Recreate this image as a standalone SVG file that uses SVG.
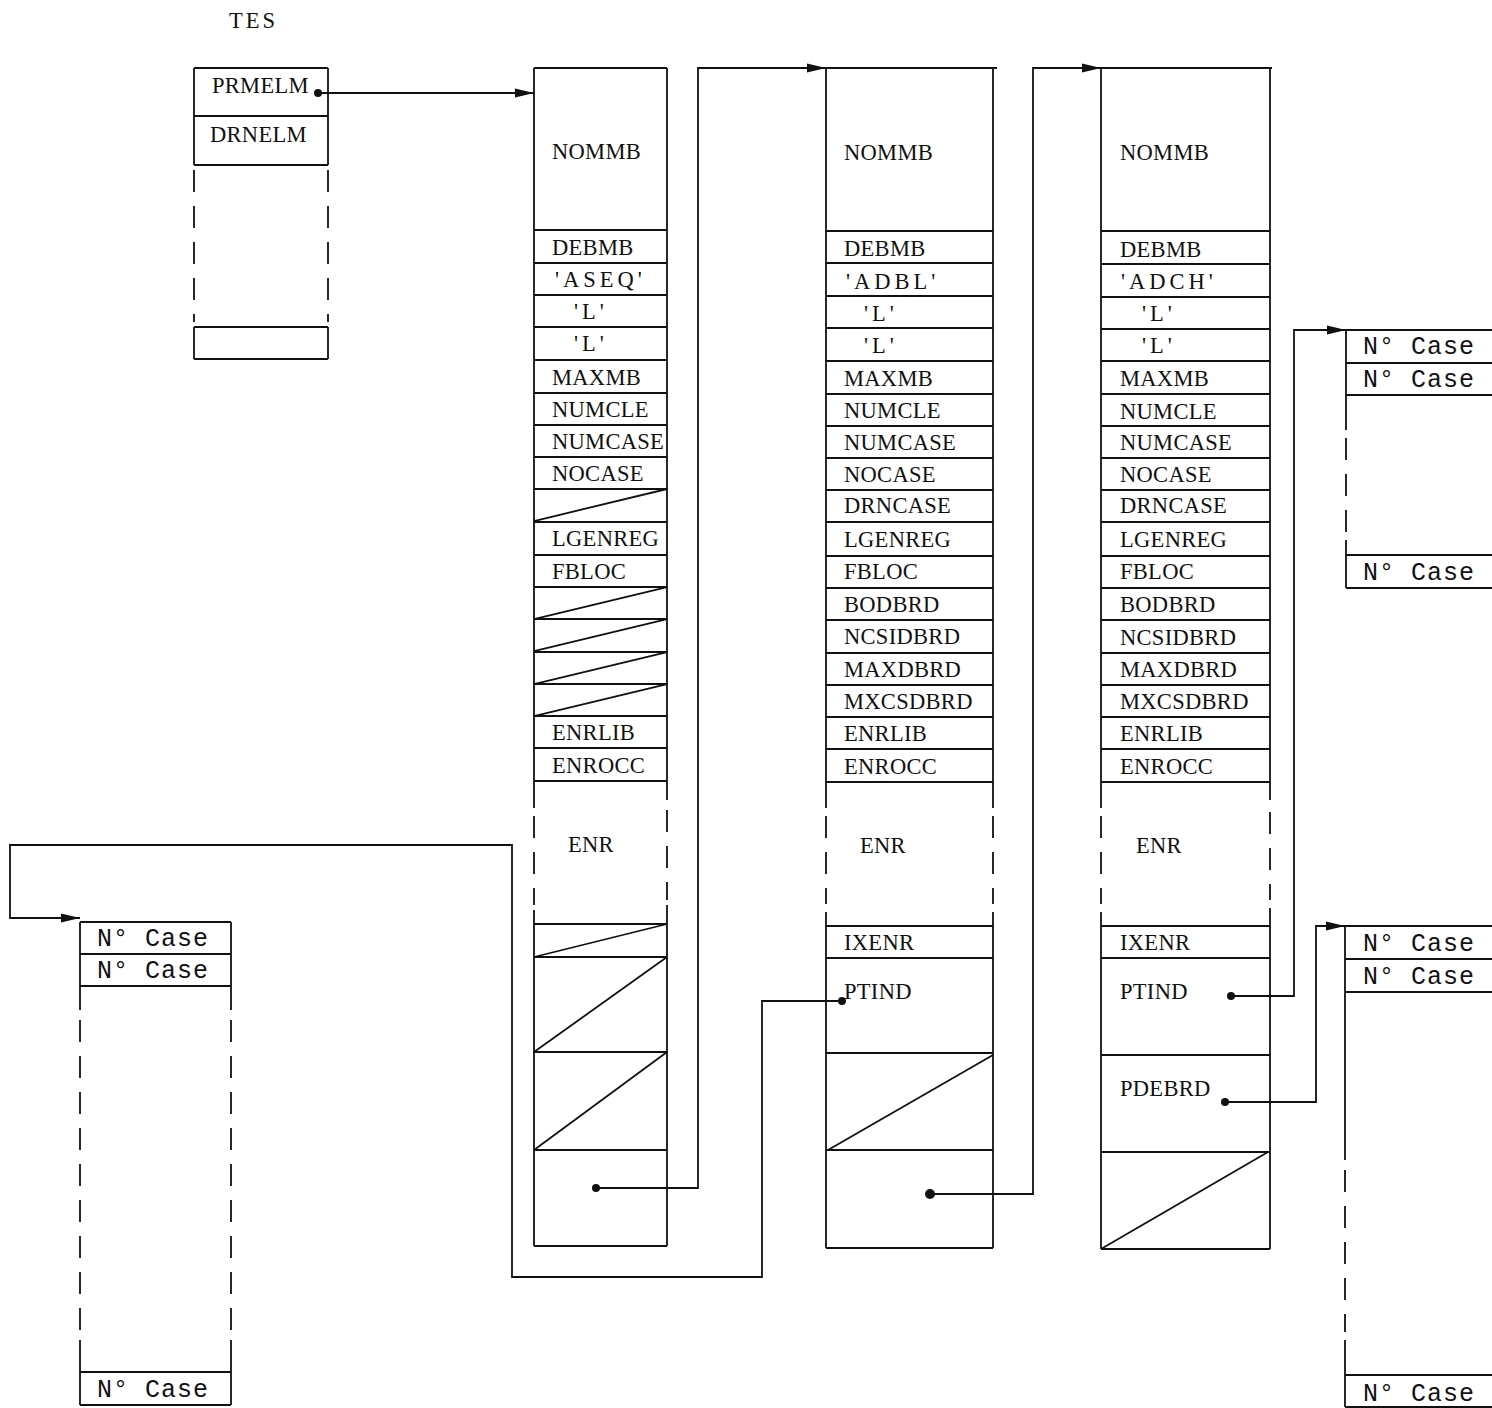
<svg xmlns="http://www.w3.org/2000/svg" width="1492" height="1408" viewBox="0 0 1492 1408">
<style>
.ln{stroke:#111;stroke-width:1.8;fill:none}
.ds{stroke:#111;stroke-width:1.8;fill:none;stroke-dasharray:22 14}
text{font-family:"Liberation Serif","Times New Roman",serif;font-size:22.5px;letter-spacing:0.3px;fill:#111}
text.q{letter-spacing:4px}
text.t{letter-spacing:3px}
text.m{font-family:"Liberation Mono","Courier New",monospace;font-size:25px;letter-spacing:1px}
.dot{fill:#111}
</style>
<defs>
<marker id="ah" markerUnits="userSpaceOnUse" markerWidth="20" markerHeight="12" refX="19" refY="6" orient="auto">
<path d="M0,1.5 L19,6 L0,10.5 z" fill="#111"/>
</marker>
</defs>
<rect width="1492" height="1408" fill="#fff"/>
<text class="t" x="229" y="28">TES</text>

<g id="tes">
<path class="ln" d="M194,68H328M194,116H328M194,165H328M194,327H328M194,359H328M194,68V165M328,68V165M194,327V359M328,327V359"/>
<path class="ds" d="M194,170V322M328,170V322"/>
<text x="212" y="93">PRMELM</text>
<text x="210" y="142">DRNELM</text>
</g>

<g id="col1">
<path class="ln" d="M534,68H667M534,230H667M534,263H667M534,295H667M534,327H667M534,360H667M534,393H667M534,425H667M534,457H667M534,489H667M534,522H667M534,555H667M534,587H667M534,619H667M534,652H667M534,684H667M534,716H667M534,748H667M534,781H667M534,924H667M534,957H667M534,1052H667M534,1150H667M534,1246H667"/>
<path class="ln" d="M534,68V808M667,68V800M534,910V1246M667,905V1246"/>
<path class="ds" d="M534,816V905M667,810V900"/>
<path class="ln" d="M534,521L667,489M534,619L667,587M534,651L667,619M534,684L667,652M534,716L667,684M534,957L667,924M534,1052L667,957M534,1150L667,1052"/>
<text x="552" y="159">NOMMB</text>
<text x="552" y="255">DEBMB</text>
<text class="q" x="555" y="287">'ASEQ'</text>
<text class="q" x="574" y="319">'L'</text>
<text class="q" x="574" y="351">'L'</text>
<text x="552" y="385">MAXMB</text>
<text x="552" y="417">NUMCLE</text>
<text x="552" y="449">NUMCASE</text>
<text x="552" y="481">NOCASE</text>
<text x="552" y="546">LGENREG</text>
<text x="552" y="579">FBLOC</text>
<text x="552" y="740">ENRLIB</text>
<text x="552" y="773">ENROCC</text>
<text x="568" y="852">ENR</text>
</g>

<g id="col2">
<path class="ln" d="M826,68H997M826,231H993M826,263H993M826,296H993M826,328H993M826,361H993M826,394H993M826,426H993M826,458H993M826,490H993M826,522H993M826,556H993M826,588H993M826,620H993M826,653H993M826,685H993M826,717H993M826,749H993M826,782H993M826,926H993M826,958H993M826,1053H993M826,1150H993M826,1248H993"/>
<path class="ln" d="M826,68V808M993,68V808M826,912V1248M993,912V1248"/>
<path class="ds" d="M826,816V904M993,816V904"/>
<path class="ln" d="M828,1150L993,1055"/>
<text x="844" y="160">NOMMB</text>
<text x="844" y="256">DEBMB</text>
<text class="q" x="846" y="289">'ADBL'</text>
<text class="q" x="864" y="321">'L'</text>
<text class="q" x="864" y="353">'L'</text>
<text x="844" y="386">MAXMB</text>
<text x="844" y="418">NUMCLE</text>
<text x="844" y="450">NUMCASE</text>
<text x="844" y="482">NOCASE</text>
<text x="844" y="513">DRNCASE</text>
<text x="844" y="547">LGENREG</text>
<text x="844" y="579">FBLOC</text>
<text x="844" y="612">BODBRD</text>
<text x="844" y="644">NCSIDBRD</text>
<text x="844" y="677">MAXDBRD</text>
<text x="844" y="709">MXCSDBRD</text>
<text x="844" y="741">ENRLIB</text>
<text x="844" y="774">ENROCC</text>
<text x="860" y="853">ENR</text>
<text x="844" y="950">IXENR</text>
<text x="844" y="999">PTIND</text>
</g>

<g id="col3">
<path class="ln" d="M1101,68H1272M1101,231H1270M1101,264H1270M1101,297H1270M1101,329H1270M1101,361H1270M1101,394H1270M1101,426H1270M1101,458H1270M1101,490H1270M1101,522H1270M1101,556H1270M1101,588H1270M1101,620H1270M1101,653H1270M1101,685H1270M1101,717H1270M1101,749H1270M1101,782H1270M1101,926H1270M1101,958H1270M1101,1055H1270M1101,1152H1270M1101,1249H1270"/>
<path class="ln" d="M1101,68V808M1270,68V800M1101,912V1249M1270,908V1249"/>
<path class="ds" d="M1101,816V904M1270,812V900"/>
<path class="ln" d="M1101,1249L1268,1152"/>
<text x="1120" y="160">NOMMB</text>
<text x="1120" y="257">DEBMB</text>
<text class="q" x="1121" y="289">'ADCH'</text>
<text class="q" x="1142" y="321">'L'</text>
<text class="q" x="1142" y="353">'L'</text>
<text x="1120" y="386">MAXMB</text>
<text x="1120" y="419">NUMCLE</text>
<text x="1120" y="450">NUMCASE</text>
<text x="1120" y="482">NOCASE</text>
<text x="1120" y="513">DRNCASE</text>
<text x="1120" y="547">LGENREG</text>
<text x="1120" y="579">FBLOC</text>
<text x="1120" y="612">BODBRD</text>
<text x="1120" y="645">NCSIDBRD</text>
<text x="1120" y="677">MAXDBRD</text>
<text x="1120" y="709">MXCSDBRD</text>
<text x="1120" y="741">ENRLIB</text>
<text x="1120" y="774">ENROCC</text>
<text x="1136" y="853">ENR</text>
<text x="1120" y="950">IXENR</text>
<text x="1120" y="999">PTIND</text>
<text x="1120" y="1096">PDEBRD</text>
</g>

<g id="case_left">
<path class="ln" d="M80,922H231M80,954H231M80,986H231M80,1372H231M80,1405H231M80,922V1010M231,922V1010M80,1340V1405M231,1340V1405"/>
<path class="ds" d="M80,1020V1330M231,1020V1330"/>
<text class="m" x="97" y="946">N° Case</text>
<text class="m" x="97" y="978">N° Case</text>
<text class="m" x="97" y="1397">N° Case</text>
</g>

<g id="case_r1">
<path class="ln" d="M1346,330H1492M1346,363H1492M1346,395H1492M1346,555H1492M1346,588H1492M1346,330V430M1346,540V588"/>
<path class="ds" d="M1346,438V532"/>
<text class="m" x="1363" y="354">N° Case</text>
<text class="m" x="1363" y="387">N° Case</text>
<text class="m" x="1363" y="580">N° Case</text>
</g>

<g id="case_r2">
<path class="ln" d="M1345,926H1492M1345,959H1492M1345,992H1492M1345,1375H1492M1345,1407H1492M1345,926V1160M1345,1340V1407"/>
<path class="ds" d="M1345,1170V1332"/>
<text class="m" x="1363" y="951">N° Case</text>
<text class="m" x="1363" y="984">N° Case</text>
<text class="m" x="1363" y="1401">N° Case</text>
</g>

<g id="connectors">
<path class="ln" d="M318,93H534" marker-end="url(#ah)"/>
<circle class="dot" cx="318" cy="93" r="4"/>
<path class="ln" d="M596,1188H698V68H826" marker-end="url(#ah)"/>
<circle class="dot" cx="596" cy="1188" r="4"/>
<path class="ln" d="M930,1194H1033V68H1101" marker-end="url(#ah)"/>
<circle class="dot" cx="930" cy="1194" r="5"/>
<path class="ln" d="M842,1001H762V1277H512V845H10V918H80" marker-end="url(#ah)"/>
<circle class="dot" cx="842" cy="1001" r="4"/>
<path class="ln" d="M1231,996H1294V330H1346" marker-end="url(#ah)"/>
<circle class="dot" cx="1231" cy="996" r="4"/>
<path class="ln" d="M1225,1102H1316V926H1345" marker-end="url(#ah)"/>
<circle class="dot" cx="1225" cy="1102" r="4"/>
</g>
</svg>
